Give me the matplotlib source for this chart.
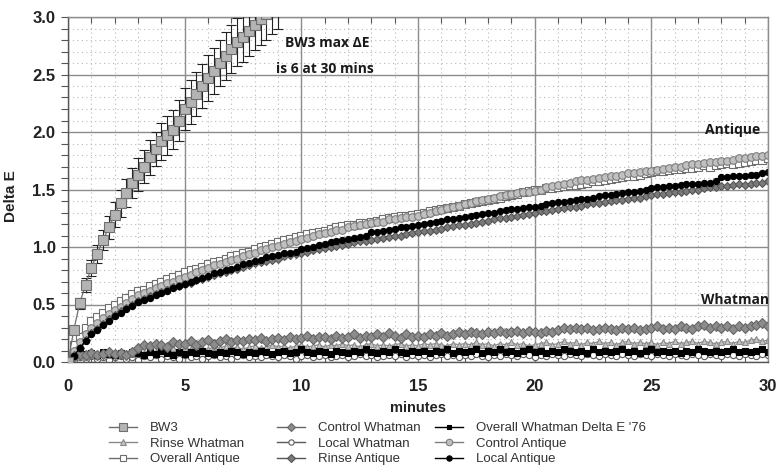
import numpy as np
import matplotlib
matplotlib.use("Agg")
import matplotlib.pyplot as plt
from matplotlib.ticker import MultipleLocator
from matplotlib.lines import Line2D

# ---------------- data ----------------
t_step = 0.25
minutes = [i * t_step for i in range(121)]           # 0 .. 30 min
bw3_minutes = [i * t_step for i in range(37)]         # 0 .. 9 min

bw3 = [0.00, 0.28, 0.51, 0.67, 0.82, 0.94, 1.06, 1.17, 1.28, 1.38, 1.47, 1.56,
       1.63, 1.70, 1.78, 1.85, 1.92, 1.97, 2.02, 2.10, 2.20, 2.26, 2.33, 2.40,
       2.47, 2.53, 2.60, 2.66, 2.72, 2.78, 2.83, 2.88, 2.93, 2.98, 3.03, 3.08, 3.13]
bw3_err = [0.00, 0.03, 0.05, 0.06, 0.07, 0.08, 0.09, 0.10, 0.11, 0.12, 0.12, 0.13,
           0.14, 0.14, 0.15, 0.15, 0.16, 0.17, 0.17, 0.18, 0.18, 0.19, 0.19, 0.19,
           0.20, 0.20, 0.20, 0.21, 0.21, 0.21, 0.22, 0.22, 0.22, 0.22, 0.23, 0.23, 0.23]

overall_antique = [
    0.02, 0.15, 0.22, 0.30, 0.36, 0.39, 0.43, 0.47, 0.50, 0.53, 0.56, 0.59,
    0.62, 0.63, 0.66, 0.68, 0.70, 0.72, 0.74, 0.76, 0.78, 0.80, 0.81, 0.83,
    0.85, 0.87, 0.88, 0.90, 0.92, 0.93, 0.95, 0.96, 0.98, 1.00, 1.01, 1.03,
    1.04, 1.06, 1.07, 1.09, 1.10, 1.11, 1.12, 1.13, 1.14, 1.16, 1.17, 1.18,
    1.19, 1.19, 1.21, 1.21, 1.22, 1.23, 1.24, 1.25, 1.26, 1.27, 1.27, 1.28,
    1.29, 1.30, 1.31, 1.32, 1.33, 1.34, 1.35, 1.36, 1.37, 1.38, 1.39, 1.40,
    1.41, 1.42, 1.43, 1.44, 1.45, 1.46, 1.48, 1.49, 1.50, 1.50, 1.51, 1.51,
    1.52, 1.53, 1.54, 1.54, 1.55, 1.56, 1.57, 1.57, 1.58, 1.59, 1.60, 1.61,
    1.62, 1.62, 1.63, 1.64, 1.65, 1.66, 1.66, 1.67, 1.68, 1.68, 1.69, 1.69,
    1.70, 1.71, 1.70, 1.71, 1.72, 1.73, 1.72, 1.73, 1.74, 1.75, 1.76, 1.76, 1.77]

control_antique = [
    0.01, 0.10, 0.17, 0.24, 0.30, 0.34, 0.38, 0.42, 0.45, 0.48, 0.51, 0.55,
    0.58, 0.60, 0.62, 0.64, 0.66, 0.69, 0.70, 0.72, 0.74, 0.76, 0.78, 0.80,
    0.82, 0.84, 0.85, 0.87, 0.89, 0.90, 0.92, 0.94, 0.95, 0.97, 0.98, 1.00,
    1.01, 1.03, 1.04, 1.05, 1.07, 1.08, 1.10, 1.11, 1.12, 1.13, 1.15, 1.15,
    1.17, 1.18, 1.19, 1.20, 1.21, 1.22, 1.22, 1.24, 1.24, 1.25, 1.26, 1.26,
    1.27, 1.29, 1.30, 1.31, 1.32, 1.34, 1.35, 1.36, 1.37, 1.38, 1.40, 1.41,
    1.42, 1.43, 1.44, 1.45, 1.46, 1.47, 1.48, 1.48, 1.49, 1.50, 1.52, 1.53,
    1.54, 1.55, 1.56, 1.57, 1.58, 1.58, 1.59, 1.60, 1.61, 1.62, 1.62, 1.63,
    1.64, 1.64, 1.65, 1.66, 1.66, 1.67, 1.68, 1.69, 1.70, 1.70, 1.71, 1.72,
    1.72, 1.73, 1.74, 1.74, 1.75, 1.75, 1.76, 1.77, 1.77, 1.78, 1.79, 1.79, 1.80]

local_antique = [
    0.00, 0.05, 0.12, 0.18, 0.24, 0.28, 0.32, 0.36, 0.40, 0.43, 0.46, 0.49,
    0.52, 0.54, 0.56, 0.58, 0.60, 0.62, 0.64, 0.66, 0.68, 0.70, 0.71, 0.73,
    0.75, 0.77, 0.78, 0.80, 0.81, 0.83, 0.85, 0.86, 0.88, 0.89, 0.91, 0.92,
    0.93, 0.95, 0.95, 0.96, 0.98, 0.99, 1.00, 1.02, 1.03, 1.04, 1.05, 1.06,
    1.07, 1.08, 1.09, 1.10, 1.13, 1.13, 1.14, 1.15, 1.16, 1.17, 1.17, 1.18,
    1.19, 1.20, 1.21, 1.22, 1.23, 1.24, 1.24, 1.25, 1.26, 1.27, 1.28, 1.29,
    1.30, 1.30, 1.31, 1.32, 1.33, 1.33, 1.34, 1.35, 1.35, 1.36, 1.37, 1.38,
    1.39, 1.39, 1.40, 1.41, 1.42, 1.42, 1.43, 1.44, 1.45, 1.45, 1.46, 1.47,
    1.48, 1.48, 1.49, 1.50, 1.51, 1.52, 1.52, 1.53, 1.53, 1.54, 1.55, 1.55,
    1.55, 1.56, 1.56, 1.57, 1.61, 1.61, 1.62, 1.62, 1.62, 1.63, 1.63, 1.64, 1.65]

rinse_antique = [
    0.00, 0.06, 0.12, 0.19, 0.25, 0.29, 0.33, 0.37, 0.41, 0.44, 0.47, 0.50,
    0.53, 0.55, 0.57, 0.59, 0.61, 0.63, 0.65, 0.66, 0.68, 0.69, 0.71, 0.72,
    0.74, 0.76, 0.77, 0.78, 0.80, 0.81, 0.83, 0.84, 0.86, 0.87, 0.88, 0.89,
    0.90, 0.92, 0.93, 0.94, 0.95, 0.96, 0.97, 0.98, 0.99, 1.00, 1.01, 1.02,
    1.03, 1.04, 1.05, 1.05, 1.06, 1.07, 1.08, 1.09, 1.10, 1.10, 1.11, 1.12,
    1.13, 1.14, 1.14, 1.15, 1.16, 1.17, 1.18, 1.19, 1.19, 1.20, 1.21, 1.22,
    1.23, 1.24, 1.25, 1.25, 1.26, 1.27, 1.28, 1.29, 1.30, 1.31, 1.31, 1.32,
    1.33, 1.34, 1.35, 1.35, 1.36, 1.37, 1.38, 1.38, 1.39, 1.40, 1.41, 1.41,
    1.42, 1.43, 1.43, 1.44, 1.45, 1.46, 1.46, 1.47, 1.48, 1.48, 1.49, 1.50,
    1.50, 1.51, 1.52, 1.52, 1.53, 1.53, 1.54, 1.55, 1.54, 1.55, 1.56, 1.56, 1.57]

control_whatman = [
    0.02, 0.05, 0.07, 0.06, 0.08, 0.06, 0.07, 0.09, 0.07, 0.08, 0.06, 0.09,
    0.12, 0.15, 0.14, 0.16, 0.15, 0.13, 0.17, 0.16, 0.16, 0.18, 0.15, 0.17,
    0.19, 0.16, 0.18, 0.20, 0.17, 0.19, 0.18, 0.20, 0.19, 0.21, 0.18, 0.20,
    0.21, 0.19, 0.22, 0.20, 0.21, 0.23, 0.20, 0.22, 0.22, 0.20, 0.23, 0.21,
    0.22, 0.24, 0.21, 0.23, 0.22, 0.24, 0.22, 0.25, 0.23, 0.21, 0.24, 0.22,
    0.23, 0.22, 0.24, 0.23, 0.25, 0.23, 0.24, 0.26, 0.24, 0.26, 0.25, 0.24,
    0.26, 0.25, 0.27, 0.25, 0.26, 0.27, 0.25, 0.27, 0.26, 0.25, 0.27, 0.26,
    0.28, 0.30, 0.29, 0.30, 0.29, 0.30, 0.28, 0.29, 0.30, 0.29, 0.28, 0.30,
    0.29, 0.30, 0.28, 0.29, 0.30, 0.31, 0.29, 0.30, 0.29, 0.31, 0.30, 0.29,
    0.31, 0.32, 0.30, 0.31, 0.30, 0.31, 0.29, 0.31, 0.30, 0.31, 0.32, 0.34, 0.31]

rinse_whatman = [
    0.00, 0.03, 0.05, 0.04, 0.06, 0.05, 0.07, 0.06, 0.07, 0.06, 0.08, 0.07,
    0.09, 0.08, 0.10, 0.09, 0.11, 0.09, 0.12, 0.10, 0.12, 0.11, 0.13, 0.12,
    0.11, 0.13, 0.12, 0.14, 0.12, 0.13, 0.11, 0.13, 0.14, 0.12, 0.13, 0.15,
    0.13, 0.14, 0.12, 0.14, 0.15, 0.13, 0.14, 0.15, 0.13, 0.15, 0.14, 0.16,
    0.14, 0.15, 0.13, 0.15, 0.16, 0.14, 0.15, 0.14, 0.15, 0.16, 0.14, 0.15,
    0.14, 0.16, 0.15, 0.16, 0.15, 0.14, 0.16, 0.15, 0.16, 0.15, 0.17, 0.15,
    0.16, 0.14, 0.16, 0.15, 0.17, 0.15, 0.16, 0.14, 0.15, 0.16, 0.17, 0.15,
    0.16, 0.18, 0.16, 0.17, 0.15, 0.17, 0.16, 0.18, 0.16, 0.17, 0.15, 0.17,
    0.18, 0.16, 0.17, 0.16, 0.17, 0.15, 0.17, 0.16, 0.18, 0.16, 0.17, 0.18,
    0.16, 0.18, 0.17, 0.16, 0.17, 0.18, 0.16, 0.18, 0.17, 0.19, 0.20, 0.18, 0.19]

overall_whatman = [
    0.01, 0.06, 0.09, 0.07, 0.08, 0.06, 0.09, 0.07, 0.06, 0.08, 0.07, 0.09,
    0.08, 0.06, 0.09, 0.07, 0.10, 0.08, 0.06, 0.09, 0.07, 0.09, 0.08, 0.10,
    0.08, 0.07, 0.09, 0.08, 0.10, 0.09, 0.07, 0.09, 0.08, 0.10, 0.09, 0.07,
    0.09, 0.10, 0.08, 0.09, 0.11, 0.09, 0.08, 0.10, 0.09, 0.07, 0.10, 0.09,
    0.08, 0.10, 0.09, 0.11, 0.09, 0.08, 0.10, 0.09, 0.11, 0.09, 0.08, 0.10,
    0.09, 0.10, 0.08, 0.10, 0.09, 0.11, 0.08, 0.10, 0.09, 0.10, 0.11, 0.08,
    0.10, 0.09, 0.11, 0.09, 0.10, 0.08, 0.10, 0.11, 0.09, 0.10, 0.08, 0.10,
    0.09, 0.11, 0.10, 0.09, 0.10, 0.08, 0.11, 0.09, 0.10, 0.09, 0.10, 0.11,
    0.09, 0.10, 0.08, 0.10, 0.11, 0.09, 0.10, 0.09, 0.10, 0.08, 0.10, 0.09,
    0.11, 0.10, 0.09, 0.10, 0.09, 0.10, 0.11, 0.09, 0.10, 0.09, 0.10, 0.11, 0.09]

local_whatman = [
    0.00, 0.02, 0.04, 0.03, 0.05, 0.03, 0.04, 0.02, 0.04, 0.05, 0.03, 0.04,
    0.02, 0.05, 0.04, 0.06, 0.03, 0.05, 0.04, 0.03, 0.06, 0.04, 0.05, 0.03,
    0.05, 0.06, 0.04, 0.05, 0.03, 0.05, 0.06, 0.04, 0.05, 0.04, 0.06, 0.05,
    0.04, 0.06, 0.05, 0.03, 0.05, 0.06, 0.04, 0.05, 0.06, 0.04, 0.05, 0.06,
    0.04, 0.05, 0.07, 0.05, 0.06, 0.04, 0.05, 0.06, 0.05, 0.07, 0.04, 0.06,
    0.05, 0.06, 0.04, 0.06, 0.07, 0.05, 0.06, 0.04, 0.06, 0.05, 0.07, 0.05,
    0.04, 0.06, 0.05, 0.07, 0.06, 0.05, 0.07, 0.06, 0.04, 0.06, 0.05, 0.07,
    0.06, 0.05, 0.07, 0.06, 0.05, 0.07, 0.06, 0.05, 0.07, 0.06, 0.05, 0.07,
    0.06, 0.05, 0.07, 0.06, 0.05, 0.07, 0.06, 0.05, 0.07, 0.06, 0.05, 0.07,
    0.06, 0.05, 0.07, 0.06, 0.05, 0.07, 0.06, 0.05, 0.07, 0.06, 0.05, 0.07, 0.06]

# ---------------- figure ----------------
fig = plt.figure(figsize=(7.79, 4.65), dpi=100)
ax = fig.add_axes([68 / 779, 1 - 362 / 465, 700 / 779, 345 / 465])

# style per series: (marker, face, edge, size)
styles = {
    "BW3": ("s", "#b4b4b4", "#6e6e6e", 6.5),
    "Control Whatman": ("D", "#8c8c8c", "#666666", 4.8),
    "Overall Whatman Delta E '76": ("s", "#000000", "#000000", 4.0),
    "Rinse Whatman": ("^", "#c4c4c4", "#8a8a8a", 5.0),
    "Local Whatman": ("o", "#ffffff", "#5a5a5a", 4.5),
    "Control Antique": ("o", "#c0c0c0", "#7e7e7e", 5.5),
    "Overall Antique": ("s", "#ffffff", "#6e6e6e", 5.5),
    "Rinse Antique": ("D", "#7a7a7a", "#555555", 4.5),
    "Local Antique": ("o", "#000000", "#000000", 4.5),
}

series = [
    ("Local Whatman", local_whatman),
    ("Rinse Whatman", rinse_whatman),
    ("Overall Whatman Delta E '76", overall_whatman),
    ("Control Whatman", control_whatman),
    ("Overall Antique", overall_antique),
    ("Control Antique", control_antique),
    ("Rinse Antique", rinse_antique),
    ("Local Antique", local_antique),
]

for name, vals in series:
    m, fc, ec, ms = styles[name]
    ax.plot(minutes, vals, marker=m, markerfacecolor=fc, markeredgecolor=ec,
            markersize=ms, markeredgewidth=0.8, color=ec, lw=0.9, clip_on=True)

m, fc, ec, ms = styles["BW3"]
ax.errorbar(bw3_minutes, bw3, yerr=bw3_err, fmt="none", ecolor="#222222",
            elinewidth=0.8, capsize=3.5, capthick=0.8, zorder=3)
ax.plot(bw3_minutes, bw3, marker=m, markerfacecolor=fc, markeredgecolor=ec,
        markersize=ms, markeredgewidth=0.8, color=ec, lw=0.9, zorder=4)

ax.set_xlim(0, 30)
ax.set_ylim(0, 3.0)
ax.xaxis.set_major_locator(MultipleLocator(5))
ax.xaxis.set_minor_locator(MultipleLocator(1))
ax.yaxis.set_major_locator(MultipleLocator(0.5))
ax.yaxis.set_minor_locator(MultipleLocator(0.1))
ax.yaxis.set_major_formatter(matplotlib.ticker.FormatStrFormatter("%.1f"))

ax.grid(which="major", color="#8c8c8c", lw=1.0, ls="-")
ax.grid(which="minor", color="#b8b8b8", lw=0.8, ls=(0, (1, 3)))
ax.set_axisbelow(True)

for s in ax.spines.values():
    s.set_color("#8c8c8c")
    s.set_linewidth(1.0)
ax.spines["left"].set_color("#555555")
ax.spines["bottom"].set_color("#555555")

ax.tick_params(axis="x", which="both", direction="in", top=True, bottom=True,
               color="#555555", length=4, width=0.8)
ax.tick_params(axis="x", which="major", length=0, pad=12)
ax.tick_params(axis="y", which="both", direction="out", left=True, right=False,
               color="#555555", length=5, width=0.8)
ax.tick_params(axis="y", which="major", pad=4)

for lab in ax.get_xticklabels() + ax.get_yticklabels():
    lab.set_fontfamily("Liberation Sans")
    lab.set_fontweight("bold")
    lab.set_fontsize(12)
    lab.set_color("#222222")

ax.set_xlabel("minutes", fontfamily="Liberation Sans", fontweight="bold",
              fontsize=10.5, color="#222222", labelpad=5)
ax.set_ylabel("Delta E", fontfamily="Liberation Sans", fontweight="bold",
              fontsize=11, color="#222222")
ax.yaxis.set_label_coords(-0.072, 0.48)

ann = dict(fontfamily="Open Sans", fontweight="bold", fontsize=10,
           color="#1a1a1a", ha="center", va="center")
ax.text(11.1, 2.77, "BW3 max ΔE", **ann)
ax.text(11.0, 2.55, "is 6 at 30 mins", **ann)
ax.text(28.5, 2.02, "Antique", **ann)
ax.text(28.6, 0.54, "Whatman", **ann)

# ---------------- legend (3 columns) ----------------
def handle(name):
    m, fc, ec, ms = styles[name]
    return Line2D([], [], marker=m, markerfacecolor=fc, markeredgecolor=ec,
                  markersize=ms * 0.85, markeredgewidth=0.8, color=ec, lw=1.0)

columns = [
    ["BW3", "Rinse Whatman", "Overall Antique"],
    ["Control Whatman", "Local Whatman", "Rinse Antique"],
    ["Overall Whatman Delta E '76", "Control Antique", "Local Antique"],
]
col_x = [109, 277, 435]
for names, x0 in zip(columns, col_x):
    fig.legend([handle(n) for n in names], names, loc="upper left",
               bbox_to_anchor=(x0 / 779, 1 - 422 / 465), frameon=False,
               handlelength=2.1, handletextpad=1.0, labelspacing=0.25,
               borderpad=0, borderaxespad=0,
               prop=dict(family="Liberation Sans", size=9.5), labelcolor="#333333")

fig.savefig("out.png", dpi=100)
